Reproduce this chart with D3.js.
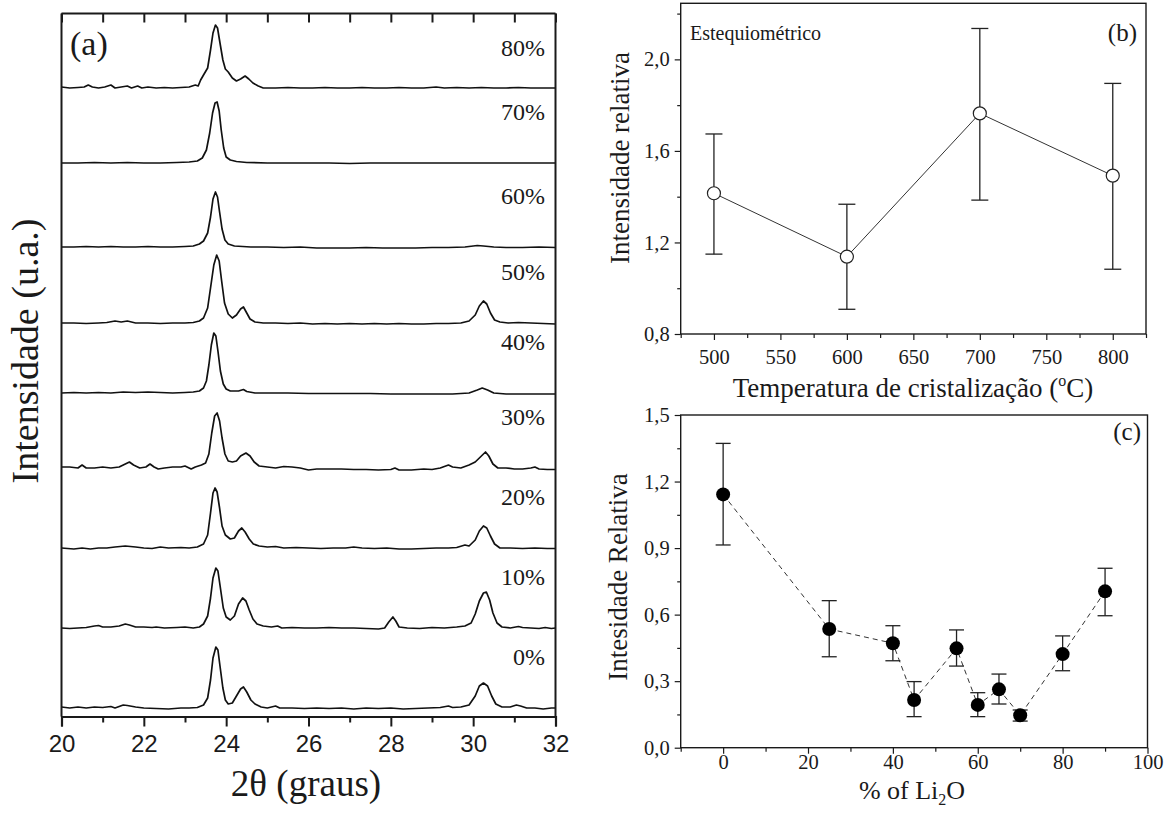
<!DOCTYPE html>
<html><head><meta charset="utf-8">
<script src="https://cdn.jsdelivr.net/npm/d3@7"></script>
<style>
html,body{margin:0;padding:0;background:#fff;}
svg{display:block;}
.serif{font-family:"Liberation Serif","Times New Roman",serif;fill:#1a1a1a;}
.sans{font-family:"Liberation Sans",Arial,sans-serif;fill:#1a1a1a;}
</style>
</head><body>
<svg id="chart" width="1171" height="818"></svg>
<script>
// ---------------- DATA ----------------
// Panel (a): XRD patterns, [2theta, intensity above own baseline (u.a.)]
const xrdLabels = ["0%","10%","20%","30%","40%","50%","60%","70%","80%"];
const xrdOffsets = [8.5, 88.5, 168.5, 248.5, 323.5, 393.5, 469.5, 553.5, 628.5];
const xrd0 = [[20.0,1],[20.2,0],[20.4,1],[20.6,0],[20.8,1],[21.0,0.5],[21.2,1.5],[21.3,0],[21.5,3],[21.6,2.5],[21.8,1],[22.0,0],[22.3,-0.5],[22.6,-1],[22.9,0],[23.1,0],[23.3,0.5],[23.45,3],[23.55,10],[23.62,28],[23.68,50],[23.75,61],[23.8,58],[23.85,42],[23.92,20],[23.98,8],[24.05,4],[24.15,5],[24.25,12],[24.35,19],[24.42,21],[24.5,16],[24.6,8],[24.7,4],[24.85,1],[25.0,0],[25.2,2],[25.3,0],[25.6,0],[25.9,-0.5],[26.2,0],[26.5,-0.5],[26.8,0],[27.1,-1],[27.4,0],[27.7,-0.5],[28.0,0],[28.3,-1],[28.6,-0.5],[28.9,0],[29.2,0.5],[29.4,2],[29.5,0.5],[29.7,1],[29.9,3],[30.05,12],[30.15,22],[30.25,25],[30.35,22],[30.45,12],[30.55,4],[30.7,1],[30.9,1],[31.05,3],[31.15,2],[31.3,0],[31.5,0],[31.7,-1],[31.9,0],[32.0,0]];
const xrd10 = [[20.0,0],[20.2,-0.5],[20.4,0],[20.6,0.5],[20.8,2],[20.9,2.5],[21.0,1],[21.2,1],[21.4,2],[21.55,4],[21.65,3],[21.8,1],[22.0,1],[22.2,0.5],[22.3,1],[22.5,0],[22.8,0.5],[23.0,1],[23.2,0],[23.35,1],[23.45,4],[23.55,12],[23.62,30],[23.68,50],[23.75,60],[23.8,57],[23.86,40],[23.93,20],[24.0,11],[24.1,8],[24.2,12],[24.3,24],[24.4,30],[24.48,27],[24.56,18],[24.65,9],[24.75,4],[24.9,2],[25.1,1],[25.25,2],[25.35,0],[25.6,0.5],[25.9,0],[26.2,0],[26.5,0.5],[26.8,0],[27.1,0],[27.4,-0.5],[27.7,-1],[27.85,0],[27.95,6],[28.05,11],[28.12,7],[28.2,1],[28.4,0],[28.7,-0.5],[29.0,0.5],[29.3,0],[29.6,1],[29.8,2],[29.95,5],[30.05,14],[30.15,27],[30.25,35],[30.32,36],[30.4,28],[30.48,15],[30.58,5],[30.7,1],[30.9,0],[31.1,1.5],[31.2,0.5],[31.4,0],[31.6,-0.5],[31.75,0.5],[31.9,-0.5],[32.0,0]];
const xrd20 = [[20.0,0],[20.3,-1],[20.5,0],[20.7,-1],[20.9,0],[21.1,0],[21.3,1],[21.55,2],[21.8,1],[22.0,0],[22.2,-0.5],[22.4,1],[22.6,0],[22.9,0.5],[23.1,0],[23.3,1],[23.45,4],[23.55,13],[23.62,35],[23.68,55],[23.73,60],[23.78,56],[23.84,40],[23.9,22],[23.98,13],[24.1,9],[24.2,10],[24.3,17],[24.38,20],[24.46,16],[24.56,9],[24.66,4],[24.8,2],[25.0,1],[25.2,1.5],[25.4,0],[25.7,0.5],[26.0,0],[26.3,-0.5],[26.6,0],[26.9,0],[27.1,1],[27.3,0],[27.6,-0.5],[27.9,0],[28.2,-1],[28.5,-1],[28.8,-0.5],[29.1,0],[29.4,0],[29.6,0.5],[29.8,3],[29.9,2],[30.05,8],[30.15,17],[30.25,22],[30.33,20],[30.42,12],[30.52,4],[30.65,0],[30.9,0],[31.2,-0.5],[31.5,0],[31.8,-0.5],[32.0,-0.5]];
const xrd30 = [[20.0,1],[20.2,1],[20.4,0],[20.5,3],[20.6,0],[20.8,0],[21.0,1],[21.2,0],[21.4,1],[21.55,4],[21.65,6],[21.75,3],[21.9,0],[22.05,1],[22.15,4],[22.25,1],[22.35,-1],[22.5,0],[22.7,1],[22.9,1],[23.0,2],[23.15,-1],[23.25,1],[23.4,3],[23.5,5],[23.58,14],[23.65,35],[23.72,52],[23.78,55],[23.84,47],[23.9,30],[23.97,14],[24.05,7],[24.15,6],[24.25,7],[24.35,12],[24.48,15],[24.58,12],[24.68,6],[24.8,2],[25.0,1],[25.2,0],[25.4,1.5],[25.6,1],[25.8,0],[26.0,-2],[26.2,-1],[26.5,-1],[26.8,-1],[27.1,-1.5],[27.4,-1.5],[27.7,-2],[28.0,-1.5],[28.1,0],[28.2,-2],[28.5,-2],[28.8,-1],[29.0,-1.5],[29.2,0],[29.4,3],[29.5,1],[29.7,0],[29.9,3],[30.05,6],[30.2,12],[30.3,16],[30.38,12],[30.48,4],[30.6,0],[30.8,0],[31.0,-1],[31.2,-1],[31.4,0],[31.5,1],[31.6,-1],[31.8,-1.5],[32.0,-1.5]];
const xrd40 = [[20.0,0],[20.3,0.5],[20.6,0],[20.9,0.5],[21.2,0],[21.5,1],[21.8,0.5],[22.1,1],[22.4,0.5],[22.7,0],[23.0,0.5],[23.2,1],[23.35,2],[23.45,5],[23.52,12],[23.58,28],[23.64,48],[23.7,60],[23.75,57],[23.8,42],[23.86,22],[23.93,9],[24.0,4],[24.1,2],[24.3,2],[24.42,3.5],[24.5,1.5],[24.7,0],[25.0,0],[25.5,0],[26.0,-0.5],[26.5,-0.5],[27.0,-0.5],[27.5,-0.5],[28.0,-1],[28.5,-1],[29.0,-1],[29.5,-1],[29.9,0],[30.1,3],[30.22,5],[30.35,3],[30.5,0],[30.8,-1],[31.2,-1],[31.6,-1],[32.0,-1]];
const xrd50 = [[20.0,0],[20.3,0],[20.6,-0.5],[20.9,0],[21.1,0.5],[21.3,2],[21.45,1],[21.6,2],[21.8,0],[22.1,0],[22.4,-0.5],[22.7,0],[23.0,0],[23.2,0.5],[23.35,2],[23.45,5],[23.55,15],[23.62,35],[23.7,58],[23.77,68],[23.83,62],[23.89,42],[23.96,20],[24.05,9],[24.15,5],[24.25,8],[24.35,14],[24.42,16],[24.5,10],[24.58,4],[24.7,1],[24.9,0],[25.2,0],[25.5,-0.5],[25.8,0],[26.1,-1],[26.4,-0.5],[26.7,-1],[27.0,-0.5],[27.3,-1],[27.6,-0.5],[27.9,-1],[28.2,-0.5],[28.5,-1],[28.8,-1],[29.1,-0.5],[29.4,-0.5],[29.7,0],[29.9,2],[30.05,8],[30.15,17],[30.25,22],[30.33,19],[30.42,10],[30.52,3],[30.65,1],[30.85,0],[31.1,0.5],[31.4,0],[31.7,-0.5],[32.0,-1]];
const xrd60 = [[20.0,0],[20.3,0],[20.6,0.5],[20.9,0],[21.2,0.5],[21.5,0],[21.8,0],[22.1,0.5],[22.4,0],[22.7,0],[23.0,0.5],[23.2,1],[23.35,3],[23.45,6],[23.55,14],[23.62,30],[23.68,48],[23.74,55],[23.79,50],[23.84,35],[23.9,18],[23.97,7],[24.05,3],[24.2,1],[24.4,0.5],[24.6,0],[25.0,0],[25.4,-0.5],[25.8,0],[26.2,-1],[26.6,-1],[27.0,-1],[27.4,-0.5],[27.8,-1],[28.2,-1],[28.6,-1],[29.0,-0.5],[29.4,-0.5],[29.8,0],[30.1,1.5],[30.25,1],[30.5,0],[30.8,-0.5],[31.2,-0.5],[31.6,0],[32.0,-0.5]];
const xrd70 = [[20.0,0],[20.4,0],[20.8,0.5],[21.2,0],[21.6,0.5],[22.0,0],[22.4,0],[22.8,0.5],[23.1,1],[23.3,2],[23.42,5],[23.52,13],[23.6,30],[23.67,50],[23.73,60],[23.78,61],[23.83,52],[23.88,33],[23.94,15],[24.0,6],[24.1,3],[24.25,1.5],[24.5,0.5],[25.0,0],[25.5,0],[26.0,0],[26.5,0],[27.0,-0.5],[27.5,0],[28.0,0],[28.5,0],[29.0,0],[29.5,0],[30.0,0],[30.5,0],[31.0,0],[31.5,0],[32.0,0]];
const xrd80 = [[20.0,1],[20.2,0],[20.4,0.5],[20.55,1],[20.65,3],[20.75,1],[20.9,0],[21.05,1],[21.2,3],[21.3,0],[21.45,1],[21.6,2],[21.7,0],[21.85,2],[21.95,0],[22.1,1],[22.3,0],[22.5,0.5],[22.7,0],[22.9,0.5],[23.1,1],[23.25,3],[23.32,2],[23.38,8],[23.45,13],[23.55,20],[23.62,38],[23.68,55],[23.74,63],[23.79,60],[23.85,45],[23.92,28],[23.98,19],[24.05,16],[24.15,10],[24.25,7],[24.35,9],[24.46,12],[24.55,9],[24.65,5],[24.78,2],[24.9,0],[25.2,0],[25.5,0.5],[25.8,0],[26.1,0],[26.4,0.5],[26.7,0],[27.0,0],[27.3,0.5],[27.6,0],[27.9,0],[28.2,0.5],[28.5,0],[28.8,0],[29.1,1],[29.3,0],[29.6,0.5],[29.9,0],[30.2,0.5],[30.5,0],[30.8,0],[31.1,0.5],[31.4,0],[31.7,0],[32.0,0]];
const xrdSeries = [xrd0, xrd10, xrd20, xrd30, xrd40, xrd50, xrd60, xrd70, xrd80];
const xrdTicks = [20,22,24,26,28,30,32];

// Panel (b): relative intensity vs crystallization temperature
const tempC = [500, 600, 700, 800];
const relIntB = [1.415, 1.138, 1.764, 1.492];
const errLowB = [1.149, 0.908, 1.385, 1.083];
const errHighB = [1.674, 1.367, 2.135, 1.895];
const ticksBY = [0.8, 1.2, 1.6, 2.0];
const ticksBX = [500, 550, 600, 650, 700, 750, 800];

// Panel (c): relative intensity vs % Li2O
const li2o = [0, 25, 40, 45, 55, 60, 65, 70, 80, 90];
const relIntC = [1.142, 0.535, 0.471, 0.215, 0.448, 0.193, 0.263, 0.146, 0.422, 0.705];
const errLowC = [0.914, 0.410, 0.392, 0.140, 0.368, 0.140, 0.197, 0.120, 0.347, 0.595];
const errHighC = [1.372, 0.663, 0.550, 0.298, 0.531, 0.248, 0.332, 0.170, 0.504, 0.809];
const ticksCY = [0, 0.3, 0.6, 0.9, 1.2, 1.5];
const ticksCX = [0, 20, 40, 60, 80, 100];

// ---------------- DRAW ----------------
const svg = d3.select("#chart");
const comma = v => d3.format(".1f")(v).replace(".", ",");
const ink = "#1a1a1a";

// ===== Panel (a) =====
const xA = d3.scaleLinear().domain([20, 32]).range([61.5, 555.5]);
const yA = d3.scaleLinear().domain([0, 703]).range([716.5, 13.5]);
const gA = svg.append("g");
const lineA = d3.line().x(d => xA(d[0])).y(d => yA(d[1]));
xrdSeries.forEach((s, i) => {
  const off = xrdOffsets[i];
  gA.append("path")
    .attr("d", lineA(s.map(p => [p[0], p[1] + off])))
    .attr("fill", "none").attr("stroke", "#111").attr("stroke-width", 1.7)
    .attr("stroke-linejoin", "round");
  const ly = Math.max(yA(off) - 51, 48);
  gA.append("text").attr("class", "serif")
    .attr("x", 545).attr("y", ly).attr("dy", "0.35em")
    .attr("text-anchor", "end").attr("font-size", 24)
    .text(xrdLabels[i]);
});
// frame
const [ax0, ax1] = xA.range(), [ay0, ay1] = yA.range();
gA.append("line").attr("x1", ax0).attr("x2", ax0).attr("y1", ay0).attr("y2", ay1);
gA.append("line").attr("x1", ax1).attr("x2", ax1).attr("y1", ay0).attr("y2", ay1);
gA.append("line").attr("x1", ax0).attr("x2", ax1).attr("y1", ay1).attr("y2", ay1);
gA.selectAll("line").attr("stroke", ink).attr("stroke-width", 2);
// bottom axis
const botA = gA.append("g").attr("transform", `translate(0,${ay0})`)
  .call(d3.axisBottom(xA).tickValues(xrdTicks).tickSize(10).tickPadding(8).tickFormat(d3.format("d")));
botA.select(".domain").attr("stroke", ink).attr("stroke-width", 2.2);
botA.selectAll(".tick line").attr("stroke", ink).attr("stroke-width", 2);
botA.selectAll(".tick text").attr("class", "sans").attr("font-size", 24).attr("fill", ink).attr("font-family", '"Liberation Sans", Arial, sans-serif');
const minorA = d3.range(21, 32, 2);
gA.append("g").attr("transform", `translate(0,${ay0})`)
  .call(d3.axisBottom(xA).tickValues(minorA).tickSize(6).tickFormat(""))
  .call(g => g.select(".domain").remove())
  .selectAll(".tick line").attr("stroke", ink).attr("stroke-width", 2);
// top ticks inside
gA.append("g").attr("transform", `translate(0,${ay1})`)
  .call(d3.axisTop(xA).tickValues(d3.range(20, 33, 1)).tickSize(-9).tickFormat(""))
  .call(g => g.select(".domain").remove())
  .selectAll(".tick line").attr("stroke", ink).attr("stroke-width", 2);
// labels
gA.append("text").attr("class", "serif").attr("x", 70).attr("y", 55).attr("font-size", 34).text("(a)");
gA.append("text").attr("class", "serif").attr("transform", "translate(38,351) rotate(-90)")
  .attr("text-anchor", "middle").attr("font-size", 38).text("Intensidade (u.a.)");
gA.append("text").attr("class", "serif").attr("x", 306).attr("y", 796)
  .attr("text-anchor", "middle").attr("font-size", 37).text("2θ (graus)");

// helper for framed axes in (b) and (c)
function frame(g, x, y) {
  const [x0, x1] = x.range(), [y0, y1] = y.range();
  g.append("rect").attr("x", x0).attr("y", y1).attr("width", x1 - x0).attr("height", y0 - y1)
    .attr("fill", "none").attr("stroke", ink).attr("stroke-width", 1.4);
}
function styleTicks(sel) {
  sel.select(".domain").remove();
  sel.selectAll(".tick line").attr("stroke", ink).attr("stroke-width", 1.2);
  sel.selectAll(".tick text").attr("fill", ink).attr("font-family", '"Liberation Serif","Times New Roman",serif').attr("font-size", 20.5);
}

// ===== Panel (b) =====
const xB = d3.scaleLinear().domain([475, 825]).range([680.7, 1146]);
const yB = d3.scaleLinear().domain([0.8, 2.245]).range([334, 3.3]);
const gB = svg.append("g");
frame(gB, xB, yB);
gB.append("g").attr("transform", `translate(${xB.range()[0]},0)`)
  .call(d3.axisLeft(yB).tickValues(ticksBY).tickSize(6).tickPadding(5).tickFormat(comma)).call(styleTicks);
gB.append("g").attr("transform", `translate(${xB.range()[0]},0)`)
  .call(d3.axisLeft(yB).tickValues([1.0, 1.4, 1.8, 2.2]).tickSize(3.5).tickFormat("")).call(styleTicks);
gB.append("g").attr("transform", `translate(0,${yB.range()[0]})`)
  .call(d3.axisBottom(xB).tickValues(ticksBX).tickSize(6).tickPadding(9).tickFormat(d3.format("d"))).call(styleTicks);
gB.append("g").attr("transform", `translate(0,${yB.range()[0]})`)
  .call(d3.axisBottom(xB).tickValues([475, 525, 575, 625, 675, 725, 775, 825]).tickSize(4).tickFormat("")).call(styleTicks);
gB.append("path")
  .attr("d", d3.line().x((d, i) => xB(tempC[i])).y(d => yB(d))(relIntB))
  .attr("fill", "none").attr("stroke", "#333").attr("stroke-width", 1);
tempC.forEach((t, i) => {
  const cx = xB(t);
  gB.append("line").attr("x1", cx).attr("x2", cx).attr("y1", yB(errLowB[i])).attr("y2", yB(errHighB[i]));
  gB.append("line").attr("x1", cx - 8.5).attr("x2", cx + 8.5).attr("y1", yB(errLowB[i])).attr("y2", yB(errLowB[i]));
  gB.append("line").attr("x1", cx - 8.5).attr("x2", cx + 8.5).attr("y1", yB(errHighB[i])).attr("y2", yB(errHighB[i]));
});
gB.selectAll(":scope > line").attr("stroke", "#222").attr("stroke-width", 1.3);
gB.selectAll("circle.pt").data(relIntB).join("circle").attr("class", "pt")
  .attr("cx", (d, i) => xB(tempC[i])).attr("cy", d => yB(d)).attr("r", 6.5)
  .attr("fill", "#fff").attr("stroke", "#222").attr("stroke-width", 1.2);
gB.append("text").attr("class", "serif").attr("x", 690).attr("y", 40).attr("font-size", 20).text("Estequiométrico");
gB.append("text").attr("class", "serif").attr("x", 1137).attr("y", 41).attr("text-anchor", "end").attr("font-size", 25).text("(b)");
gB.append("text").attr("class", "serif").attr("transform", "translate(629,158) rotate(-90)")
  .attr("text-anchor", "middle").attr("font-size", 27).text("Intensidade relativa");
const tB = gB.append("text").attr("class", "serif").attr("x", 913).attr("y", 397)
  .attr("text-anchor", "middle").attr("font-size", 27);
tB.append("tspan").text("Temperatura de cristalização (");
tB.append("tspan").attr("font-size", 16).attr("dy", -11).text("o");
tB.append("tspan").attr("dy", 11).text("C)");

// ===== Panel (c) =====
const xC = d3.scaleLinear().domain([-10, 100]).range([680.7, 1147.5]);
const yC = d3.scaleLinear().domain([0, 1.5]).range([747.7, 415]);
const gC = svg.append("g");
frame(gC, xC, yC);
gC.append("g").attr("transform", `translate(${xC.range()[0]},0)`)
  .call(d3.axisLeft(yC).tickValues(ticksCY).tickSize(6).tickPadding(5).tickFormat(comma)).call(styleTicks);
gC.append("g").attr("transform", `translate(${xC.range()[0]},0)`)
  .call(d3.axisLeft(yC).tickValues([0.15, 0.45, 0.75, 1.05, 1.35]).tickSize(3.5).tickFormat("")).call(styleTicks);
gC.append("g").attr("transform", `translate(0,${yC.range()[0]})`)
  .call(d3.axisBottom(xC).tickValues(ticksCX).tickSize(6).tickPadding(1).tickFormat(d3.format("d"))).call(styleTicks);
gC.append("g").attr("transform", `translate(0,${yC.range()[0]})`)
  .call(d3.axisBottom(xC).tickValues([-10, 10, 30, 50, 70, 90]).tickSize(4).tickFormat("")).call(styleTicks);
gC.append("path")
  .attr("d", d3.line().x((d, i) => xC(li2o[i])).y(d => yC(d))(relIntC))
  .attr("fill", "none").attr("stroke", "#333").attr("stroke-width", 1).attr("stroke-dasharray", "5,4");
li2o.forEach((t, i) => {
  const cx = xC(t);
  gC.append("line").attr("x1", cx).attr("x2", cx).attr("y1", yC(errLowC[i])).attr("y2", yC(errHighC[i]));
  gC.append("line").attr("x1", cx - 7.5).attr("x2", cx + 7.5).attr("y1", yC(errLowC[i])).attr("y2", yC(errLowC[i]));
  gC.append("line").attr("x1", cx - 7.5).attr("x2", cx + 7.5).attr("y1", yC(errHighC[i])).attr("y2", yC(errHighC[i]));
});
gC.selectAll(":scope > line").attr("stroke", "#222").attr("stroke-width", 1.3);
gC.selectAll("circle.pt").data(relIntC).join("circle").attr("class", "pt")
  .attr("cx", (d, i) => xC(li2o[i])).attr("cy", d => yC(d)).attr("r", 7)
  .attr("fill", "#000");
gC.append("text").attr("class", "serif").attr("x", 1141).attr("y", 440).attr("text-anchor", "end").attr("font-size", 25).text("(c)");
gC.append("text").attr("class", "serif").attr("transform", "translate(627,577) rotate(-90)")
  .attr("text-anchor", "middle").attr("font-size", 27).text("Intesidade Relativa");
const tC = gC.append("text").attr("class", "serif").attr("x", 912).attr("y", 799)
  .attr("text-anchor", "middle").attr("font-size", 26);
tC.append("tspan").text("% of Li");
tC.append("tspan").attr("font-size", 16).attr("dy", 6).text("2");
tC.append("tspan").attr("dy", -6).text("O");
</script>
</body></html>
